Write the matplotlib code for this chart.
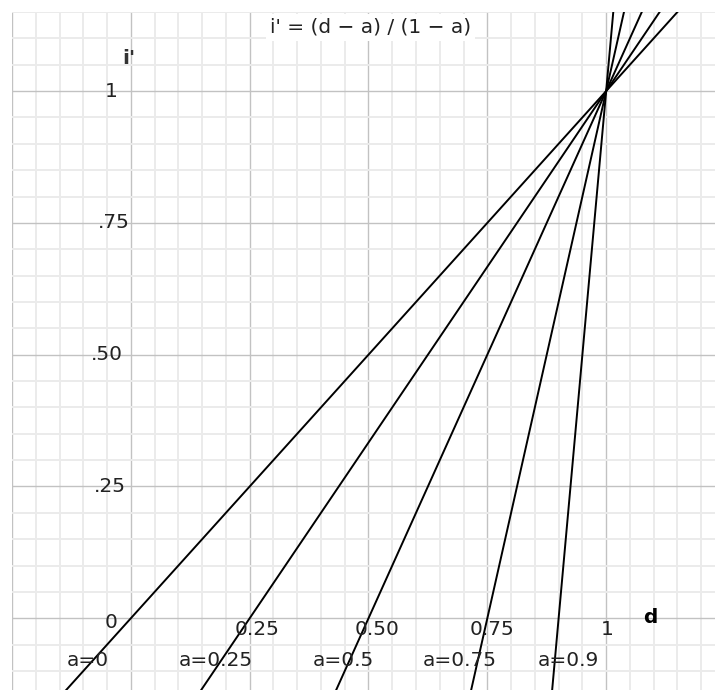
import numpy as np
import matplotlib
matplotlib.use("Agg")
import matplotlib.pyplot as plt
from matplotlib.ticker import MultipleLocator

# -- chart data
a_values = [0, 0.25, 0.5, 0.75, 0.9]
a_labels = ["a=0", "a=0.25", "a=0.5", "a=0.75", "a=0.9"]
a_label_x = [-0.09, 0.179, 0.447, 0.691, 0.92]

y_tick_values = [1, 0.75, 0.5, 0.25, 0]
y_tick_labels = ["1", ".75", ".50", ".25", "0"]
y_tick_x = [-0.042, -0.036, -0.05, -0.044, -0.042]

x_tick_values = [0.265, 0.517, 0.76, 1.002]
x_tick_labels = ["0.25", "0.50", "0.75", "1"]

xlim = (-0.25, 1.229)
ylim = (-0.136, 1.15)

plt.rcParams['font.family'] = ['DejaVu Sans']

fig = plt.figure(figsize=(7.15, 6.9), dpi=100)
ax = fig.add_axes([12 / 715, 0, 703 / 715, 678 / 690])
ax.set_xlim(*xlim)
ax.set_ylim(*ylim)

# -- grid paper
ax.xaxis.set_major_locator(MultipleLocator(0.25))
ax.yaxis.set_major_locator(MultipleLocator(0.25))
ax.xaxis.set_minor_locator(MultipleLocator(0.05))
ax.yaxis.set_minor_locator(MultipleLocator(0.05))
ax.grid(which='minor', color='#ebebeb', linewidth=1.4)
ax.grid(which='major', color='#c2c2c2', linewidth=1.0)
ax.set_axisbelow(True)
ax.tick_params(which='both', length=0, labelbottom=False, labelleft=False)
for s in ax.spines.values():
    s.set_visible(False)

# -- lines i' = (d - a) / (1 - a)
d = np.array(xlim)
for a in a_values:
    ax.plot(d, (d - a) / (1 - a), color='black', linewidth=1.4)

# -- labels
fs = 14.5
for v, lab, x in zip(y_tick_values, y_tick_labels, y_tick_x):
    yy = v if v != 0 else -0.008
    ax.text(x, yy, lab, ha='center', va='center', fontsize=fs, color='#222222')
for x, lab in zip(x_tick_values, x_tick_labels):
    ax.text(x, -0.021, lab, ha='center', va='center', fontsize=fs, color='#222222')
for x, lab in zip(a_label_x, a_labels):
    ax.text(x, -0.0795, lab, ha='center', va='center', fontsize=fs, color='#222222')

ax.text(1.092, 0.002, "d", ha='center', va='center', fontsize=fs, fontweight='bold')
ax.text(-0.004, 1.0625, "i'", ha='center', va='center', fontsize=fs, fontweight='bold',
        color='#333333')
ax.text(0.504, 1.121, "i' = (d \u2212 a) / (1 \u2212 a)", ha='center', va='center',
        fontsize=fs, color='#222222',
        bbox=dict(facecolor='white', edgecolor='none', pad=3))

fig.savefig("out.png", dpi=100)
